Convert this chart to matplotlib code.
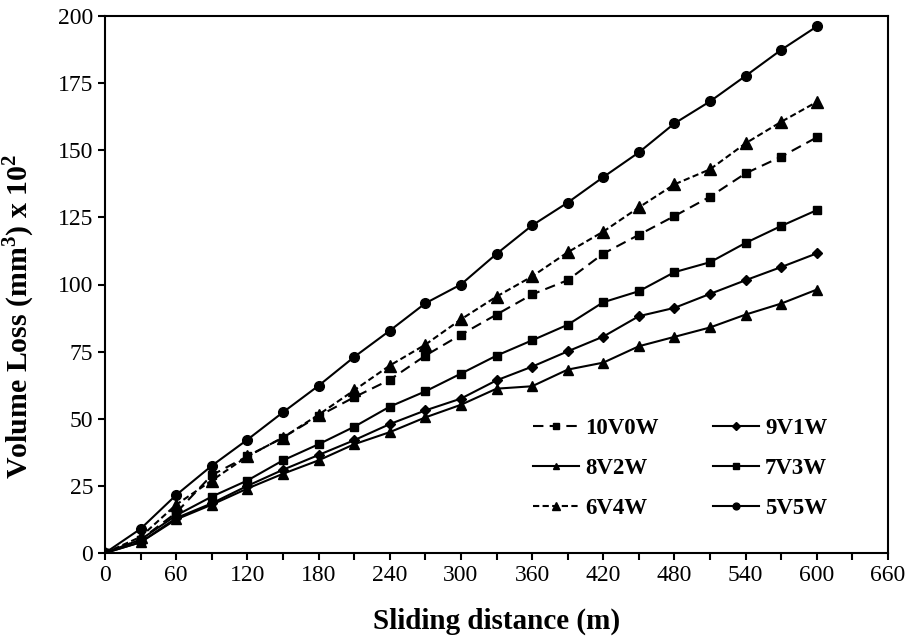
import matplotlib
matplotlib.use("Agg")
import matplotlib.pyplot as plt
from matplotlib.ticker import MultipleLocator

distance = [0, 30, 60, 90, 120, 150, 180, 210, 240, 270, 300, 330, 360, 390, 420, 450, 480, 510, 540, 570, 600]

v10w0 = [0, 5, 15, 29, 36, 43, 51, 58, 64.5, 73.5, 81.3, 88.8, 96.3, 101.6, 111.5, 118.5, 125.5, 132.7, 141.4, 147.6, 154.8]
v9w1 = [0, 4, 13, 18.5, 25, 31, 36.5, 42, 48, 53.1, 57.5, 64.3, 69.4, 75.1, 80.6, 88.2, 91.3, 96.5, 101.6, 106.5, 111.6]
v8w2 = [0, 4, 12.5, 18, 24, 29.5, 34.5, 40.5, 45, 50.5, 55.2, 61.2, 62.1, 68.3, 70.9, 77, 80.5, 84, 88.8, 92.9, 98.1]
v7w3 = [0, 5, 14, 21, 27, 34.5, 40.5, 47, 54.5, 60.2, 66.8, 73.5, 79.2, 85, 93.4, 97.5, 104.6, 108.3, 115.5, 121.8, 127.7]
v6w4 = [0, 6, 18, 27, 36, 43, 51.5, 60.6, 69.8, 77.6, 87, 95.5, 103, 112, 119.7, 128.7, 137.3, 142.9, 152.6, 160.6, 168]
v5w5 = [0, 9, 21.6, 32.5, 42.2, 52.4, 62.3, 73, 82.8, 93, 100, 111.4, 122, 130.5, 140, 149.2, 160, 168.2, 177.7, 187.4, 196.1]

labels = ["10V0W", "9V1W", "8V2W", "7V3W", "6V4W", "5V5W"]

plt.rcParams["font.family"] = ["Liberation Serif", "DejaVu Serif"]
plt.rcParams["mathtext.fontset"] = "custom"
plt.rcParams["mathtext.rm"] = "Liberation Serif"
plt.rcParams["mathtext.bf"] = "Liberation Serif:bold"

fig = plt.figure(figsize=(9.07, 6.41), dpi=100)
ax = fig.add_axes([105/907, 1 - 553/641, (888-105)/907, (553-16)/641])

lw = 1.5
h = {}
h[0], = ax.plot(distance, v10w0, color="black", lw=lw, ls=(0, (5, 3)), marker="s", ms=5.5, label=labels[0])
h[1], = ax.plot(distance, v9w1, color="black", lw=lw, ls="-", marker="D", ms=5.5, label=labels[1])
h[2], = ax.plot(distance, v8w2, color="black", lw=lw, ls="-", marker="^", ms=7, label=labels[2])
h[3], = ax.plot(distance, v7w3, color="black", lw=lw, ls="-", marker="s", ms=5.5, label=labels[3])
h[4], = ax.plot(distance, v6w4, color="black", lw=lw, ls=(0, (3, 1.6)), marker="^", ms=8, label=labels[4])
h[5], = ax.plot(distance, v5w5, color="black", lw=lw, ls="-", marker="o", ms=7, label=labels[5])

ax.set_xlim(0, 660)
ax.set_ylim(0, 200)
ax.xaxis.set_major_locator(MultipleLocator(60))
ax.xaxis.set_minor_locator(MultipleLocator(30))
ax.yaxis.set_major_locator(MultipleLocator(25))
ax.tick_params(axis="both", which="both", direction="out", length=5, width=1.5, labelsize=17, top=False, right=False)
for s in ax.spines.values():
    s.set_linewidth(1.5)

ax.set_xlabel("Sliding distance (m)", fontsize=21, fontweight="bold", labelpad=16)
ax.set_ylabel("Volume Loss (mm$^\\mathbf{3}$) x 10$^\\mathbf{2}$", fontsize=21.5, fontweight="bold")
ax.yaxis.set_label_coords(-0.087, 0.44)

order = [0, 2, 4, 1, 3, 5]
leg = ax.legend([h[i] for i in order], [labels[i] for i in order], ncol=2, loc="upper left",
                bbox_to_anchor=(0.547, 0.251), frameon=False, borderaxespad=0, borderpad=0,
                prop={"weight": "bold", "size": 16.5}, handlelength=2.0, handletextpad=0.25,
                columnspacing=2.4, labelspacing=0.82, markerscale=0.7)

fig.savefig("out.png", dpi=100)
